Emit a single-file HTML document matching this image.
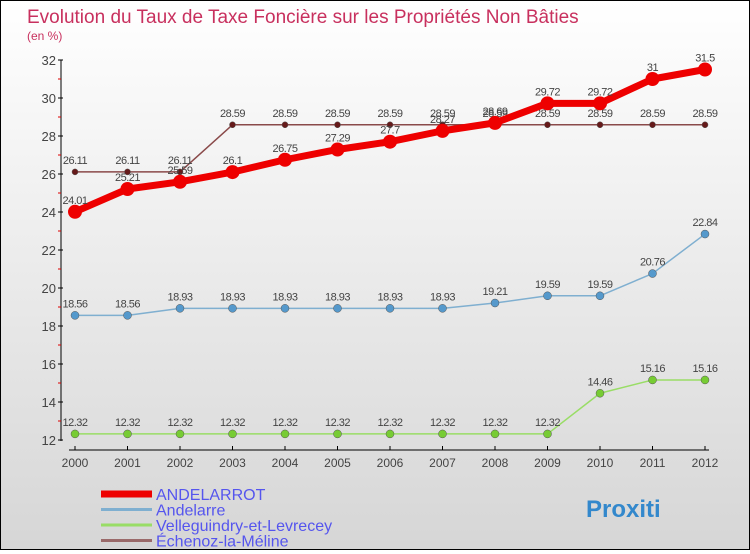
<!DOCTYPE html>
<html><head><meta charset="utf-8"><style>
body{margin:0}
#c{width:748px;height:548px;border:1px solid #000;background:linear-gradient(#fff,#d6d6d6);position:relative;font-family:"Liberation Sans",sans-serif}
</style></head><body>
<div id="c">
<svg id="s" width="748" height="548" xmlns="http://www.w3.org/2000/svg" font-family="Liberation Sans, sans-serif"></svg>
</div>
<script>
const years=[2000,2001,2002,2003,2004,2005,2006,2007,2008,2009,2010,2011,2012];
const yTicks=[12,14,16,18,20,22,24,26,28,30,32];
const andelarrot=[24.01,25.21,25.59,26.1,26.75,27.29,27.7,28.27,28.69,29.72,29.72,31,31.5];
const andelarre=[18.56,18.56,18.93,18.93,18.93,18.93,18.93,18.93,19.21,19.59,19.59,20.76,22.84];
const velle=[12.32,12.32,12.32,12.32,12.32,12.32,12.32,12.32,12.32,12.32,14.46,15.16,15.16];
const echenoz=[26.11,26.11,26.11,28.59,28.59,28.59,28.59,28.59,28.59,28.59,28.59,28.59,28.59];
const names=["ANDELARROT","Andelarre","Velleguindry-et-Levrecey","Échenoz-la-Méline"];
const s=document.getElementById('s');const NS="http://www.w3.org/2000/svg";
function X(i){return 74+i*52.5}
function Y(v){return 439-(v-12)*19}
function el(t,a,p){const e=document.createElementNS(NS,t);for(const k in a)e.setAttribute(k,a[k]);(p||s).appendChild(e);return e}
let t=el('text',{x:26,y:22,fill:'#c8305e','font-size':19});t.textContent="Evolution du Taux de Taxe Foncière sur les Propriétés Non Bâties";

t=el('text',{x:26,y:39,fill:'#c8305e','font-size':12});t.textContent="(en %)";

let ax=el('line',{x1:60,y1:59,x2:60,y2:440,stroke:'#000'});
ax=el('line',{x1:68,y1:449,x2:708,y2:449,stroke:'#000'});
yTicks.forEach(v=>{el('line',{x1:57,y1:Y(v),x2:62,y2:Y(v),stroke:'#000'});if(v<32)el('line',{x1:57,y1:Y(v+1),x2:60,y2:Y(v+1),stroke:'#d00'});
 const tx=el('text',{x:55,y:Y(v)+5,'text-anchor':'end','font-size':13,fill:'#444'});tx.textContent=v;
 });
years.forEach((y,i)=>{el('line',{x1:X(i),y1:445,x2:X(i),y2:449,stroke:'#000'});
 const tx=el('text',{x:X(i),y:466,'text-anchor':'middle','font-size':12,fill:'#444'});tx.textContent=y;
 });
function series(d,col,w,r,dot,name){
 const g=el('g',{});
 el('polyline',{points:d.map((v,i)=>X(i)+','+Y(v)).join(' '),fill:'none',stroke:col,'stroke-width':w,'stroke-linejoin':'round'},g);
 d.forEach((v,i)=>{const c=el('circle',{cx:X(i),cy:Y(v),r:r,fill:dot,stroke:col==dot?'none':'#555','stroke-width':0.5},g);
  
  const tx=el('text',{x:X(i),y:Y(v)-8,'text-anchor':'middle','font-size':11,fill:'#444','letter-spacing':'-0.5'},g);tx.textContent=v;});
}
series(velle,'#99dd66',1.5,4,'#77cc33','series-velleguindry');
series(andelarre,'#7fafd0',1.5,4,'#5599cc','series-andelarre');
series(echenoz,'#8a4a4a',1.5,3,'#661a1a','series-echenoz');
series(andelarrot,'#ee0000',7,7,'#ee0000','series-andelarrot');
const lc=['#ee0000','#7fafd0','#99dd66','#9a6a6a'],lw=[7,3,3,3];
names.forEach((n,i)=>{const g=el('g',{});
 const y=493+i*15.5;el('line',{x1:100,y1:y,x2:151,y2:y,stroke:lc[i],'stroke-width':lw[i]},g);
 const tx=el('text',{x:155,y:y+6,'font-size':16,fill:'#5555ee'},g);tx.textContent=n;});
t=el('text',{x:585,y:516,'font-size':24,'font-weight':'bold',fill:'#3388cc'});t.textContent="Proxiti";

</script>
</body></html>
